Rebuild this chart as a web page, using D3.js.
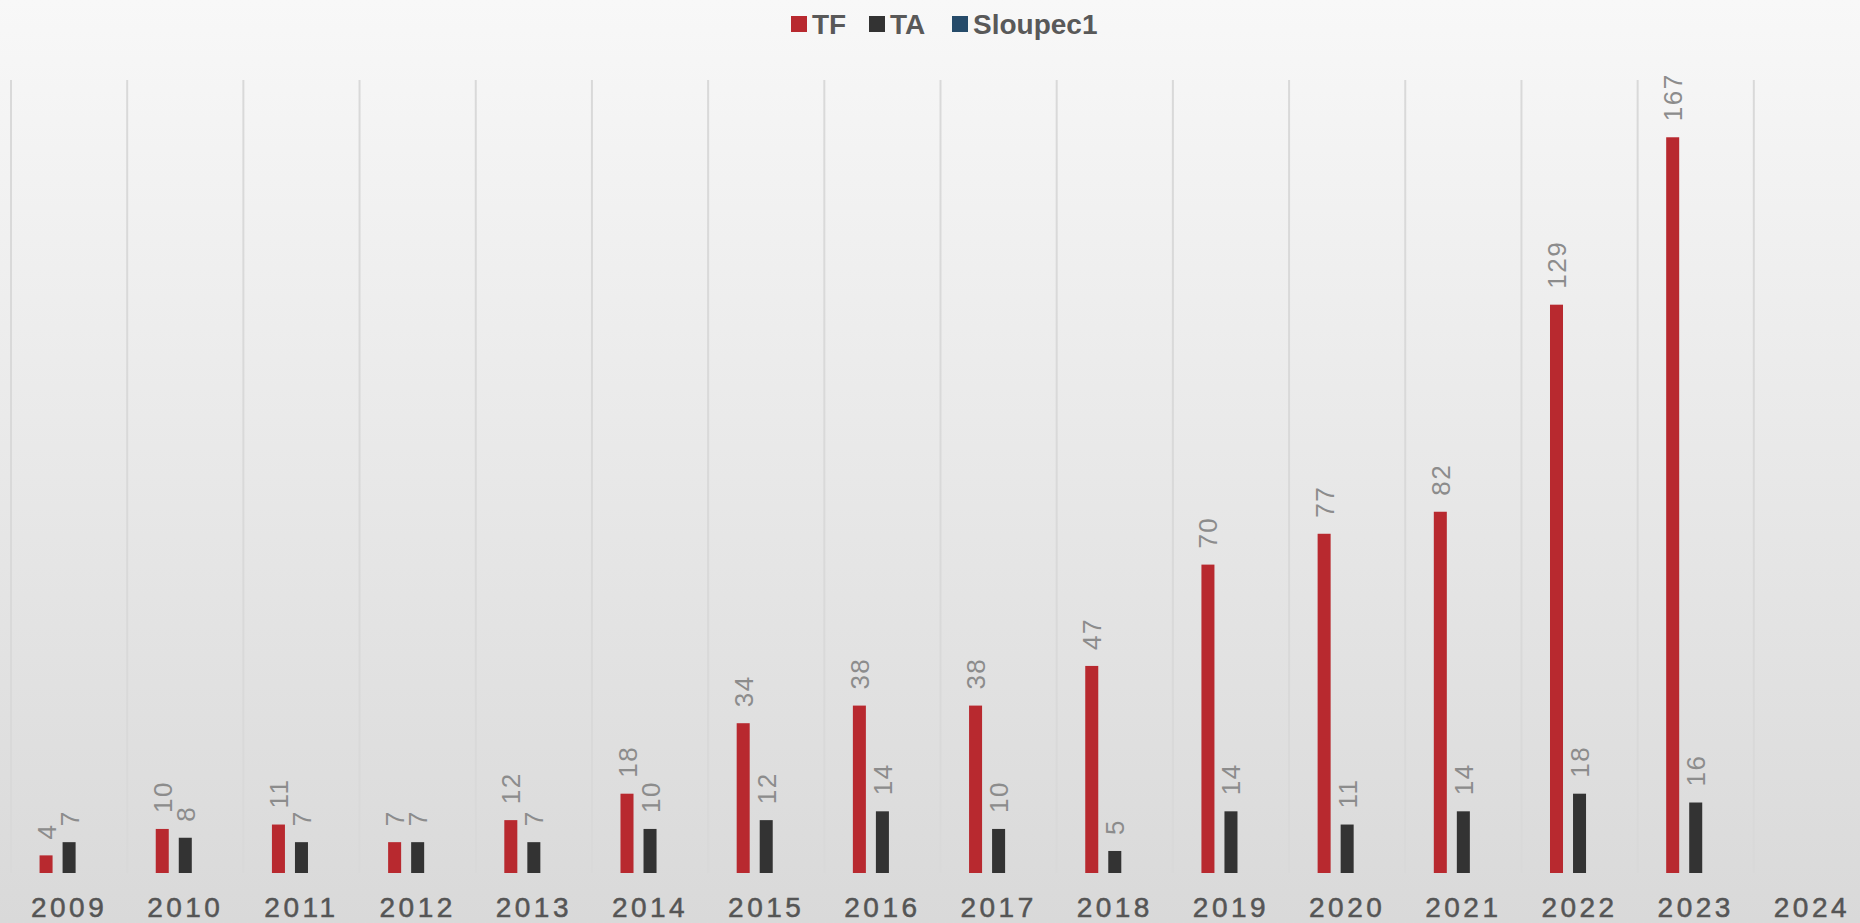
<!DOCTYPE html>
<html>
<head>
<meta charset="utf-8">
<script src="https://cdn.jsdelivr.net/npm/d3@7"></script>
<style>
  html, body { margin: 0; padding: 0; overflow: hidden; }
  body { width: 1860px; height: 923px; }
  text { font-family: "Liberation Sans", Arial, sans-serif; }
</style>
</head>
<body>
<div id="chart-area"></div>
<script>
// chart data
const years = ["2009", "2010", "2011", "2012", "2013", "2014", "2015", "2016",
               "2017", "2018", "2019", "2020", "2021", "2022", "2023", "2024"];
const seriesNames = ["TF", "TA", "Sloupec1"];
const tfValues = [4, 10, 11, 7, 12, 18, 34, 38, 38, 47, 70, 77, 82, 129, 167, null];
const taValues = [7, 8, 7, 7, 7, 10, 12, 14, 10, 5, 14, 11, 14, 18, 16, null];
const sloupecValues = years.map(() => null); // empty series, only in legend
const colors = { TF: "#b8292f", TA: "#333333", Sloupec1: "#264b6a" };

const W = 1860, H = 923;
const plot = { left: 11, right: 1870, top: 80, bottom: 873 };

const svg = d3.select("#chart-area")
  .append("svg")
    .attr("width", W)
    .attr("height", H);

// background gradient
const grad = svg.append("defs").append("linearGradient")
    .attr("id", "bg")
    .attr("x1", 0).attr("y1", 0).attr("x2", 0).attr("y2", 1);
grad.append("stop").attr("offset", "0%").attr("stop-color", "#f8f8f8");
grad.append("stop").attr("offset", "100%").attr("stop-color", "#d9d9d9");
svg.append("rect").attr("width", W).attr("height", H).attr("fill", "url(#bg)");

const x0 = d3.scaleBand()
  .domain(years)
  .range([plot.left, plot.right])
  .padding(0);

const x1 = d3.scaleBand()
  .domain(seriesNames)
  .range([0, x0.bandwidth()])
  .paddingInner(0.435)
  .paddingOuter(1.24);

const y = d3.scaleLinear()
  .domain([0, 180])
  .range([plot.bottom, plot.top]);

// vertical gridlines at category borders
svg.append("g")
  .selectAll("line")
  .data(years)
  .enter()
  .append("line")
    .attr("x1", d => x0(d))
    .attr("x2", d => x0(d))
    .attr("y1", plot.top)
    .attr("y2", plot.bottom)
    .attr("stroke", "#d9d9d9")
    .attr("stroke-width", 2);

// x axis labels
const xAxis = d3.axisBottom(x0).tickSize(0).tickPadding(0);
const gx = svg.append("g")
  .attr("transform", "translate(0," + plot.bottom + ")")
  .call(xAxis);
gx.select(".domain").remove();
gx.selectAll("text")
  .attr("y", 44)
  .attr("dy", 0)
  .attr("fill", "#555555")
  .style("font-size", "28px")
  .style("letter-spacing", "3.5px")
  .style("font-family", "'Liberation Sans', Arial, sans-serif")
  .style("stroke", "#555555")
  .style("stroke-width", "0.5px");

const rows = years.map((yr, i) => ({
  year: yr,
  values: [
    { key: "TF", value: tfValues[i] },
    { key: "TA", value: taValues[i] },
    { key: "Sloupec1", value: sloupecValues[i] }
  ].filter(v => v.value != null)
}));

const groups = svg.append("g")
  .selectAll("g")
  .data(rows)
  .enter()
  .append("g")
    .attr("transform", d => "translate(" + x0(d.year) + ",0)");

groups.selectAll("rect")
  .data(d => d.values)
  .enter()
  .append("rect")
    .attr("x", d => x1(d.key))
    .attr("y", d => y(d.value))
    .attr("width", x1.bandwidth())
    .attr("height", d => y(0) - y(d.value))
    .attr("fill", d => colors[d.key]);

// rotated value labels
groups.selectAll("text")
  .data(d => d.values)
  .enter()
  .append("text")
    .attr("transform", d => "translate(" + (x1(d.key) + x1.bandwidth() / 2 + 9.5) + "," + (y(d.value) - 16) + ") rotate(-90)")
    .attr("fill", "#8c8c8c")
    .style("font-size", "26px")
    .style("letter-spacing", "1.5px")
    .text(d => d.value);

// legend
const legendX = [791, 869, 952];
const legend = svg.append("g");
seriesNames.forEach((name, i) => {
  legend.append("rect")
    .attr("x", legendX[i])
    .attr("y", 16)
    .attr("width", 16)
    .attr("height", 16)
    .attr("fill", colors[name]);
  legend.append("text")
    .attr("x", legendX[i] + 21)
    .attr("y", 34)
    .attr("fill", "#595959")
    .style("font-size", "28px")
    .style("font-weight", "bold")
    .text(name);
});
</script>
</body>
</html>
